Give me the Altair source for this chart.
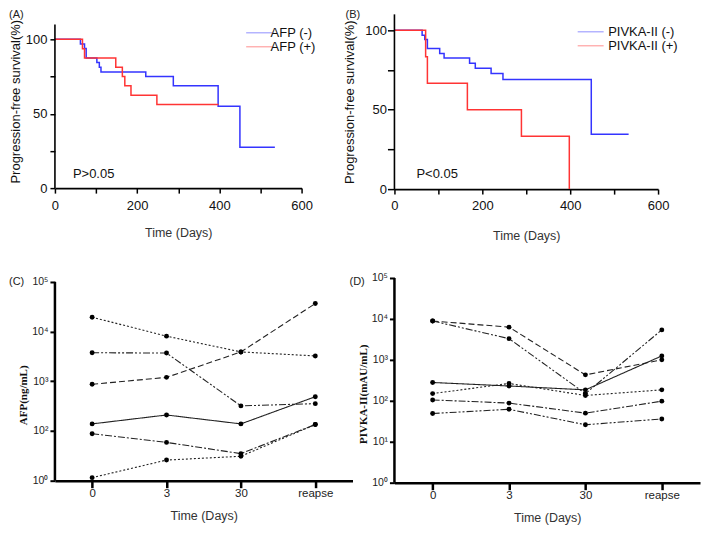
import json
import altair as alt
import pandas as pd

# ---------------- data ----------------
# Panel A: Kaplan-Meier, AFP
afp_neg_time = [0, 62, 72, 76, 102, 108, 112, 221, 288, 397, 450, 535]
afp_neg_surv = [100, 96.8, 93.8, 87.5, 84.4, 81.3, 78.1, 75.0, 68.8, 55.0, 27.5, 27.5]
afp_pos_time = [0, 67, 72, 148, 164, 170, 185, 248, 398]
afp_pos_surv = [100, 93.75, 87.5, 81.25, 75.0, 68.75, 62.5, 56.25, 56.25]
afp_groups = ["AFP (-)", "AFP (+)"]

# Panel B: Kaplan-Meier, PIVKA-II
piv_neg_time = [0, 63, 69, 75, 103, 113, 171, 184, 220, 247, 448, 533]
piv_neg_surv = [100, 96.9, 94.1, 88.5, 85.3, 82.6, 79.2, 76.1, 72.7, 69.0, 34.5, 34.5]
piv_pos_time = [0, 71, 75, 166, 289, 398]
piv_pos_surv = [100, 83.3, 66.7, 50.0, 33.3, 0.0]
piv_groups = ["PIVKA-II (-)", "PIVKA-II (+)"]

p_texts = ["P>0.05", "P<0.05"]
panel_letters = ["(A)", "(B)", "(C)", "(D)"]

# Panels C/D: time points
time_points = ["0", "3", "30", "reapse"]

# Panel C: AFP (ng/mL), six patients
afp_p1 = [19500, 8100, 3900, 3240]
afp_p2 = [3760, 3700, 320, 355]
afp_p3 = [870, 1200, 3900, 36700]
afp_p4 = [139, 210, 139, 490]
afp_p5 = [88, 59, 35, 135]
afp_p6 = [11.5, 26, 31, 135]

# Panel D: PIVKA-II (mAU/mL), six patients
piv_p1 = [8900, 6300, 430, 1000]
piv_p2 = [8900, 3300, 150, 5400]
piv_p3 = [280, 230, 185, 1250]
piv_p4 = [150, 265, 135, 185]
piv_p5 = [105, 88, 50, 98]
piv_p6 = [49, 62, 26, 36]

c_tick_labels = ["10\u2070", "10\u00b2", "10\u00b3", "10\u2074", "10\u2075"]
d_tick_labels = ["10\u2070", "10\u00b9", "10\u00b2", "10\u00b3", "10\u2074", "10\u2075"]

BLUE = "#3434ff"
RED = "#ff3434"
SANS = "Liberation Sans"
SERIF = "Liberation Serif"


def km_frame(groups, times, survs):
    rows = []
    for g, ts, ss in zip(groups, times, survs):
        for t, s in zip(ts, ss):
            rows.append({"group": g, "time": t, "surv": s})
    return pd.DataFrame(rows)


def km_panel(df, groups, letter, ptext, w, h, ytop, leg_x, leg_y, leg_off,
             letter_x, letter_y, ptext_x, ptext_y, ytick, ylabpad, ytitle_pad,
             xlabpad, xtitle_pad):
    line = alt.Chart(df).mark_line(interpolate="step-after", strokeWidth=1.5).encode(
        x=alt.X("time:Q",
                scale=alt.Scale(domain=[0, 600], nice=False, zero=False),
                axis=alt.Axis(values=[0, 100, 200, 300, 400, 500, 600],
                              labelExpr="datum.value % 200 == 0 ? datum.label : ''",
                              title="Time (Days)", titlePadding=xtitle_pad,
                              titleFont=SANS, titleFontWeight="normal", titleFontSize=12.5,
                              titleColor="#333",
                              labelFont=SANS, labelFontSize=13, labelColor="#111",
                              domainColor="#000", domainWidth=1.6, tickColor="#000",
                              tickWidth=1.5, tickSize=5, labelPadding=xlabpad, grid=False,
                              labelFlush=False)),
        y=alt.Y("surv:Q",
                scale=alt.Scale(domain=[0, ytop], nice=False),
                axis=alt.Axis(values=[0, 25, 50, 75, 100],
                              labelExpr="datum.value % 50 == 0 ? datum.label : ''",
                              title="Progression-free survival(%)", titlePadding=ytitle_pad,
                              titleFont=SANS, titleFontWeight="normal", titleFontSize=13,
                              titleColor="#111",
                              labelFont=SANS, labelFontSize=13, labelColor="#111",
                              domain=False, tickColor="#000",
                              tickWidth=1.5, tickSize=ytick, labelPadding=ylabpad,
                              grid=False)),
        color=alt.Color("group:N",
                        scale=alt.Scale(domain=groups, range=[BLUE, RED]),
                        legend=alt.Legend(title=None, orient="none", legendX=leg_x,
                                          legendY=leg_y, symbolType="M-3,0H3",
                                          symbolSize=75, symbolStrokeWidth=1,
                                          symbolOpacity=0.55, labelOffset=leg_off,
                                          labelFont=SANS, labelFontSize=13,
                                          labelColor="#111", rowPadding=0, padding=0)),
        order=alt.Order("time:Q"),
    )
    yline = alt.Chart(pd.DataFrame({"a": [0]})).mark_rule(
        color="#000", strokeWidth=1.6
    ).encode(x=alt.value(0), y=alt.datum(0), y2=alt.datum(110))
    ptxt = alt.Chart(pd.DataFrame({"t": [ptext]})).mark_text(
        align="left", baseline="middle", font=SANS, fontSize=13, color="#111"
    ).encode(x=alt.value(ptext_x), y=alt.value(ptext_y), text="t:N")
    let = alt.Chart(pd.DataFrame({"t": [letter]})).mark_text(
        align="left", baseline="middle", font=SANS, fontSize=11, color="#222"
    ).encode(x=alt.value(letter_x), y=alt.value(letter_y), text="t:N")
    return alt.layer(line, yline, ptxt, let).properties(width=w, height=h)


def series_frame(series, values):
    rows = []
    for sid, vals in zip(series, values):
        for i, (t, v) in enumerate(zip(time_points, vals)):
            rows.append({"sid": sid, "time": t, "ti": i, "val": v})
    return pd.DataFrame(rows)


DOT = [2, 2]
DASH = [6, 3]
DASHDOT = [7, 2, 2, 2]
DASHDOTDOT = [7, 2, 2, 2, 2, 2]
SOLID = [1, 0]


def line_panel(df, dashes, ytitle, domain, axis_top, tick_labels, offset, letter,
               w, h, letter_x, letter_y, title_y):
    ids = list(dict.fromkeys(df["sid"].tolist()))
    expr = f"{json.dumps(tick_labels)}[round(log(datum.value)/LN10) - {offset}]"
    tick_vals = [10 ** (k + offset) for k in range(len(tick_labels))]
    xenc = alt.X("time:O", sort=time_points,
                 scale=alt.Scale(type="point", padding=0.5),
                 axis=alt.Axis(title="Time (Days)", titleFont=SANS, titleFontWeight="normal",
                               titleFontSize=12.5, titleColor="#333", titlePadding=10,
                               labelAngle=0,
                               labelFont=SANS, labelFontSize=11.5, labelColor="#222",
                               labelPadding=0, domainColor="#000", domainWidth=2.5,
                               tickColor="#000", tickWidth=2.5, tickSize=7, grid=False))
    yenc = alt.Y("val:Q",
                 scale=alt.Scale(type="log", domain=domain, nice=False),
                 axis=alt.Axis(values=tick_vals, labelExpr=expr, title=ytitle,
                               titleFont=SERIF, titleFontWeight="bold", titleFontSize=11,
                               titleColor="#111", titleY=title_y,
                               titlePadding=3, labelFont=SANS, labelFontSize=10.5,
                               labelColor="#222", labelPadding=2, domain=False,
                               tickColor="#000", tickWidth=2,
                               tickSize=5, grid=False))
    lines = alt.Chart(df).mark_line(strokeWidth=1.1, color="#222").encode(
        x=xenc, y=yenc,
        strokeDash=alt.StrokeDash("sid:N", scale=alt.Scale(domain=ids, range=dashes),
                                  legend=None),
        detail="sid:N",
        order=alt.Order("ti:Q"),
    )
    pts = alt.Chart(df).mark_circle(size=24, color="#000", opacity=1).encode(x=xenc, y=yenc)
    yline = alt.Chart(pd.DataFrame({"a": [0]})).mark_rule(
        color="#000", strokeWidth=2.5
    ).encode(x=alt.value(0), y=alt.datum(domain[0]), y2=alt.datum(axis_top))
    let = alt.Chart(pd.DataFrame({"t": [letter]})).mark_text(
        align="left", baseline="middle", font=SANS, fontSize=11, color="#222"
    ).encode(x=alt.value(letter_x), y=alt.value(letter_y), text="t:N")
    return alt.layer(lines, pts, yline, let).properties(width=w, height=h)


dfA = km_frame(afp_groups, [afp_neg_time, afp_pos_time], [afp_neg_surv, afp_pos_surv])
dfB = km_frame(piv_groups, [piv_neg_time, piv_pos_time], [piv_neg_surv, piv_pos_surv])
dfC = series_frame(["c1", "c2", "c3", "c4", "c5", "c6"],
                   [afp_p1, afp_p2, afp_p3, afp_p4, afp_p5, afp_p6])
dfD = series_frame(["d1", "d2", "d3", "d4", "d5", "d6"],
                   [piv_p1, piv_p2, piv_p3, piv_p4, piv_p5, piv_p6])

A = km_panel(dfA, afp_groups, panel_letters[0], p_texts[0], 247, 174, 116.8,
             leg_x=198, leg_y=12, leg_off=5, letter_x=-46, letter_y=1,
             ptext_x=18, ptext_y=160, ytick=5, ylabpad=3, ytitle_pad=3,
             xlabpad=6, xtitle_pad=14)
B = km_panel(dfB, piv_groups, panel_letters[1], p_texts[1], 264, 175, 110,
             leg_x=190, leg_y=11, leg_off=11, letter_x=-49, letter_y=1,
             ptext_x=22, ptext_y=160, ytick=7, ylabpad=1, ytitle_pad=8,
             xlabpad=5, xtitle_pad=17)
C = line_panel(dfC, [DOT, DASHDOTDOT, DASH, SOLID, DASHDOT, DOT],
               "AFP(ng/mL)", [10, 120000], 100000, c_tick_labels, 1, panel_letters[2],
               298, 203, letter_x=-46, letter_y=4, title_y=117)
D = line_panel(dfD, [DASH, DASHDOTDOT, SOLID, DOT, DASHDOT, DASHDOTDOT],
               "PIVKA-II(mAU/mL)", [1, 100000], 100000, d_tick_labels, 0, panel_letters[3],
               306, 205, letter_x=-45, letter_y=4, title_y=116)

chart = alt.concat(
    A, B, C, D, columns=2, bounds="flush", spacing={"row": 89, "column": 42}
).resolve_scale(color="independent", strokeDash="independent").configure_view(
    stroke="transparent"
).properties(background="white", padding={"left": 0, "top": 0, "right": 0, "bottom": 0})

chart.save("out.html", embed_options={"renderer": "svg", "actions": False})
